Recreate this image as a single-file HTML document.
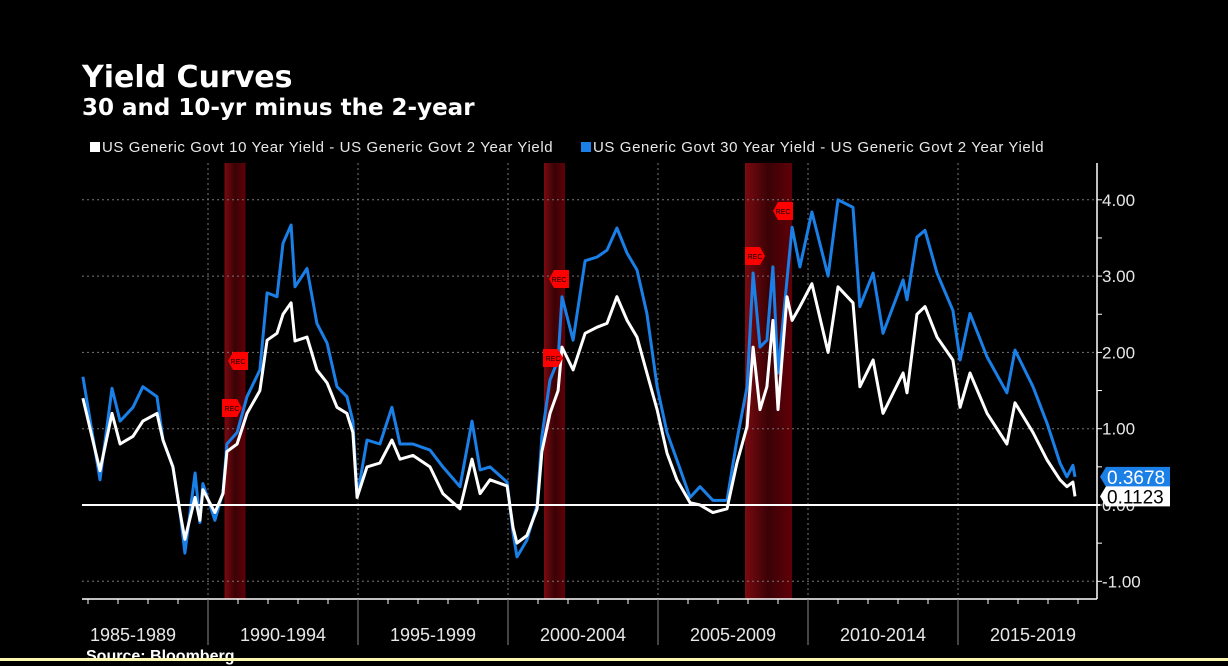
<!DOCTYPE html>
<html><head><meta charset="utf-8"><style>
html,body{margin:0;padding:0;background:#000;}
body{width:1228px;height:661px;overflow:hidden;position:relative;font-family:"Liberation Sans",sans-serif;color:#fff;}
.t{position:absolute;white-space:nowrap;}
</style></head><body>
<div class="t" style="left:82px;top:60px;font-size:30px;font-weight:bold;font-family:'DejaVu Sans',sans-serif;">Yield Curves</div>
<div class="t" style="left:82px;top:95px;font-size:23px;font-weight:bold;font-family:'DejaVu Sans',sans-serif;">30 and 10-yr minus the 2-year</div>
<div class="t" style="left:90px;top:139px;font-size:15px;letter-spacing:0.6px;color:#e8e8e8;"><span style="display:inline-block;width:10px;height:10px;background:#fff;margin-right:2px;"></span>US Generic Govt 10 Year Yield - US Generic Govt 2 Year Yield</div>
<div class="t" style="left:581px;top:139px;font-size:15px;letter-spacing:0.6px;color:#e8e8e8;"><span style="display:inline-block;width:10px;height:10px;background:#1a7fe6;margin-right:2px;"></span>US Generic Govt 30 Year Yield - US Generic Govt 2 Year Yield</div>
<svg id="chart" width="1228" height="661" style="position:absolute;left:0;top:0;">
<defs><linearGradient id="rg" x1="0" x2="1" y1="0" y2="0"><stop offset="0" stop-color="#7a0a10"/><stop offset="0.5" stop-color="#3a0206"/><stop offset="1" stop-color="#600008"/></linearGradient></defs>
</svg>
<div class="t" style="left:86px;top:648px;font-size:16px;font-weight:bold;">Source: Bloomberg</div>
<div style="position:absolute;left:0;top:658px;width:1228px;height:3px;background:#fdf8b0;"></div>
<script>
const years=[1985.83,1986.4,1986.8,1987.07,1987.5,1987.83,1988.3,1988.5,1988.83,1989.07,1989.23,1989.57,1989.73,1989.83,1990.23,1990.5,1990.63,1990.97,1991.3,1991.73,1991.97,1992.3,1992.5,1992.77,1992.9,1993.3,1993.63,1993.97,1994.3,1994.63,1994.83,1994.97,1995.3,1995.73,1996.13,1996.4,1996.83,1997.4,1997.83,1998.4,1998.8,1999.07,1999.4,1999.97,2000.17,2000.3,2000.63,2000.97,2001.13,2001.4,2001.67,2001.8,2002.17,2002.57,2002.97,2003.3,2003.63,2003.97,2004.3,2004.63,2004.97,2005.3,2005.63,2006.07,2006.4,2006.83,2007.3,2007.63,2007.97,2008.17,2008.4,2008.63,2008.83,2009.0,2009.3,2009.47,2009.73,2010.13,2010.67,2011.0,2011.5,2011.73,2012.17,2012.5,2013.17,2013.3,2013.63,2013.9,2014.3,2014.83,2015.07,2015.4,2015.97,2016.63,2016.9,2017.5,2017.97,2018.4,2018.63,2018.83,2018.9];
const s30=[1.68,0.33,1.53,1.1,1.28,1.55,1.42,0.85,0.5,-0.1,-0.63,0.42,-0.23,0.28,-0.2,0.17,0.8,0.95,1.42,1.77,2.78,2.73,3.43,3.67,2.86,3.1,2.38,2.12,1.55,1.42,1.1,0.1,0.85,0.8,1.28,0.8,0.8,0.72,0.5,0.24,1.1,0.46,0.5,0.3,-0.37,-0.68,-0.46,0,0.9,1.64,1.9,2.73,2.16,3.2,3.25,3.34,3.63,3.3,3.08,2.51,1.55,0.95,0.59,0.1,0.24,0.06,0.06,0.85,1.55,3.04,2.07,2.16,3.12,1.73,2.95,3.64,3.12,3.84,3.0,4.0,3.9,2.6,3.04,2.25,2.95,2.69,3.51,3.6,3.04,2.55,1.9,2.51,1.94,1.47,2.03,1.55,1.07,0.55,0.37,0.52,0.3678];
const s10=[1.40,0.45,1.2,0.8,0.9,1.1,1.2,0.85,0.5,-0.1,-0.45,0.1,-0.2,0.2,-0.1,0.15,0.7,0.8,1.2,1.5,2.16,2.25,2.5,2.65,2.15,2.2,1.77,1.6,1.28,1.2,0.95,0.1,0.5,0.55,0.85,0.6,0.65,0.5,0.15,-0.05,0.6,0.15,0.33,0.25,-0.3,-0.5,-0.4,-0.05,0.7,1.2,1.5,2.07,1.77,2.25,2.33,2.38,2.73,2.42,2.2,1.73,1.25,0.68,0.33,0.03,0,-0.1,-0.05,0.55,1.03,2.07,1.25,1.55,2.42,1.25,2.73,2.42,2.6,2.9,2.0,2.86,2.65,1.55,1.9,1.2,1.73,1.47,2.5,2.6,2.2,1.9,1.28,1.73,1.2,0.8,1.34,0.95,0.59,0.33,0.24,0.3,0.1123];
const yTicks=[4,3,2,1,0,-1];
const yTickLabels=["4.00","3.00","2.00","1.00","0.00","-1.00"];
const periodLabels=["1985-1989","1990-1994","1995-1999","2000-2004","2005-2009","2010-2014","2015-2019"];
const recStart=[1990.55,2001.2,2007.9];
const recEnd=[1991.25,2001.9,2009.47];
const last30=0.3678, last10=0.1123;

const X=t=>58+30*(t-1985);
const Y=v=>505-76.3*v;
const svg=document.getElementById('chart');
const NS='http://www.w3.org/2000/svg';
function mk(tag,attrs){const e=document.createElementNS(NS,tag);for(const k in attrs)e.setAttribute(k,attrs[k]);svg.appendChild(e);return e;}
const L=82,R=1097,T=163,B=599;
recStart.forEach((s,i)=>{const r=mk('rect',{x:X(s),y:T,width:X(recEnd[i])-X(s),height:B-T,fill:'url(#rg)'});

});
yTicks.forEach(v=>{if(v===0)return;const g=mk('line',{x1:L,x2:R,y1:Y(v),y2:Y(v),stroke:'#777','stroke-dasharray':'2,3','stroke-width':1});

});
for(let yr=1990;yr<=2015;yr+=5){const g=mk('line',{x1:X(yr),x2:X(yr),y1:T,y2:B,stroke:'#777','stroke-dasharray':'2,3','stroke-width':1});

}
function line(vals,color,name){const p=years.map((t,i)=>X(t).toFixed(1)+','+Y(vals[i]).toFixed(1)).join(' ');
const e=mk('polyline',{points:p,fill:'none',stroke:color,'stroke-width':3,'stroke-linejoin':'round'});

}
line(s30,'#1a7fe6','series-30y-2y');
line(s10,'#ffffff','series-10y-2y');
const z=mk('line',{x1:L,x2:R+3,y1:Y(0),y2:Y(0),stroke:'#fff','stroke-width':2});


const recTags=[[222,408,1],[228,361,0],[543,358,1],[549,279,0],[745,256,1],[773,211,0]];
recTags.forEach(([x,y,dir])=>{const w=20,h=18;let pts=dir?`${x},${y-h/2} ${x+w-5},${y-h/2} ${x+w},${y} ${x+w-5},${y+h/2} ${x},${y+h/2}`:`${x+5},${y-h/2} ${x+w},${y-h/2} ${x+w},${y+h/2} ${x+5},${y+h/2} ${x},${y}`;
const g=mk('polygon',{points:pts,fill:'#f00'});


const tx=mk('text',{x:x+w/2,y:y+3,'font-size':7,fill:'#000','text-anchor':'middle','font-family':'Liberation Sans'});tx.textContent='REC';});
const ax=mk('line',{x1:L,x2:R,y1:B,y2:B,stroke:'#fff','stroke-width':1.5});


const ay=mk('line',{x1:R,x2:R,y1:T,y2:B,stroke:'#fff','stroke-width':1.5});


for(let v=-1;v<=4.01;v+=0.5){mk('line',{x1:R,x2:R+5,y1:Y(v),y2:Y(v),stroke:'#fff','stroke-width':1});}
yTicks.forEach((v,i)=>{const t=mk('text',{x:R+5,y:Y(v)+6,'font-size':17,fill:'#e8e8e8','font-family':'Liberation Sans'});t.textContent=yTickLabels[i];

});
for(let yr=1986;yr<=2019;yr++){if(yr%5===0){mk('line',{x1:X(yr),x2:X(yr),y1:B,y2:645,stroke:'#888','stroke-width':1});}else{mk('line',{x1:X(yr),x2:X(yr),y1:B,y2:B+5,stroke:'#fff','stroke-width':1});}}
periodLabels.forEach((lab,i)=>{const t=mk('text',{x:X(1985+5*i+2.5),y:641,'font-size':18,fill:'#e8e8e8','text-anchor':'middle','font-family':'Liberation Sans'});t.textContent=lab;

});
function tag(v,bg,fg,name){const y=Y(v);const g=mk('polygon',{points:`${R+3},${y} ${R+9},${y-10} ${R+73},${y-10} ${R+73},${y+10} ${R+9},${y+10}`,fill:bg});


const t=mk('text',{x:R+10,y:y+7,'font-size':19,fill:fg,'font-family':'Liberation Sans'});t.textContent=v.toFixed(4);}
tag(last30,'#1a7fe6','#fff','last-value-30y');
tag(last10,'#fff','#000','last-value-10y');
</script>
</body></html>
